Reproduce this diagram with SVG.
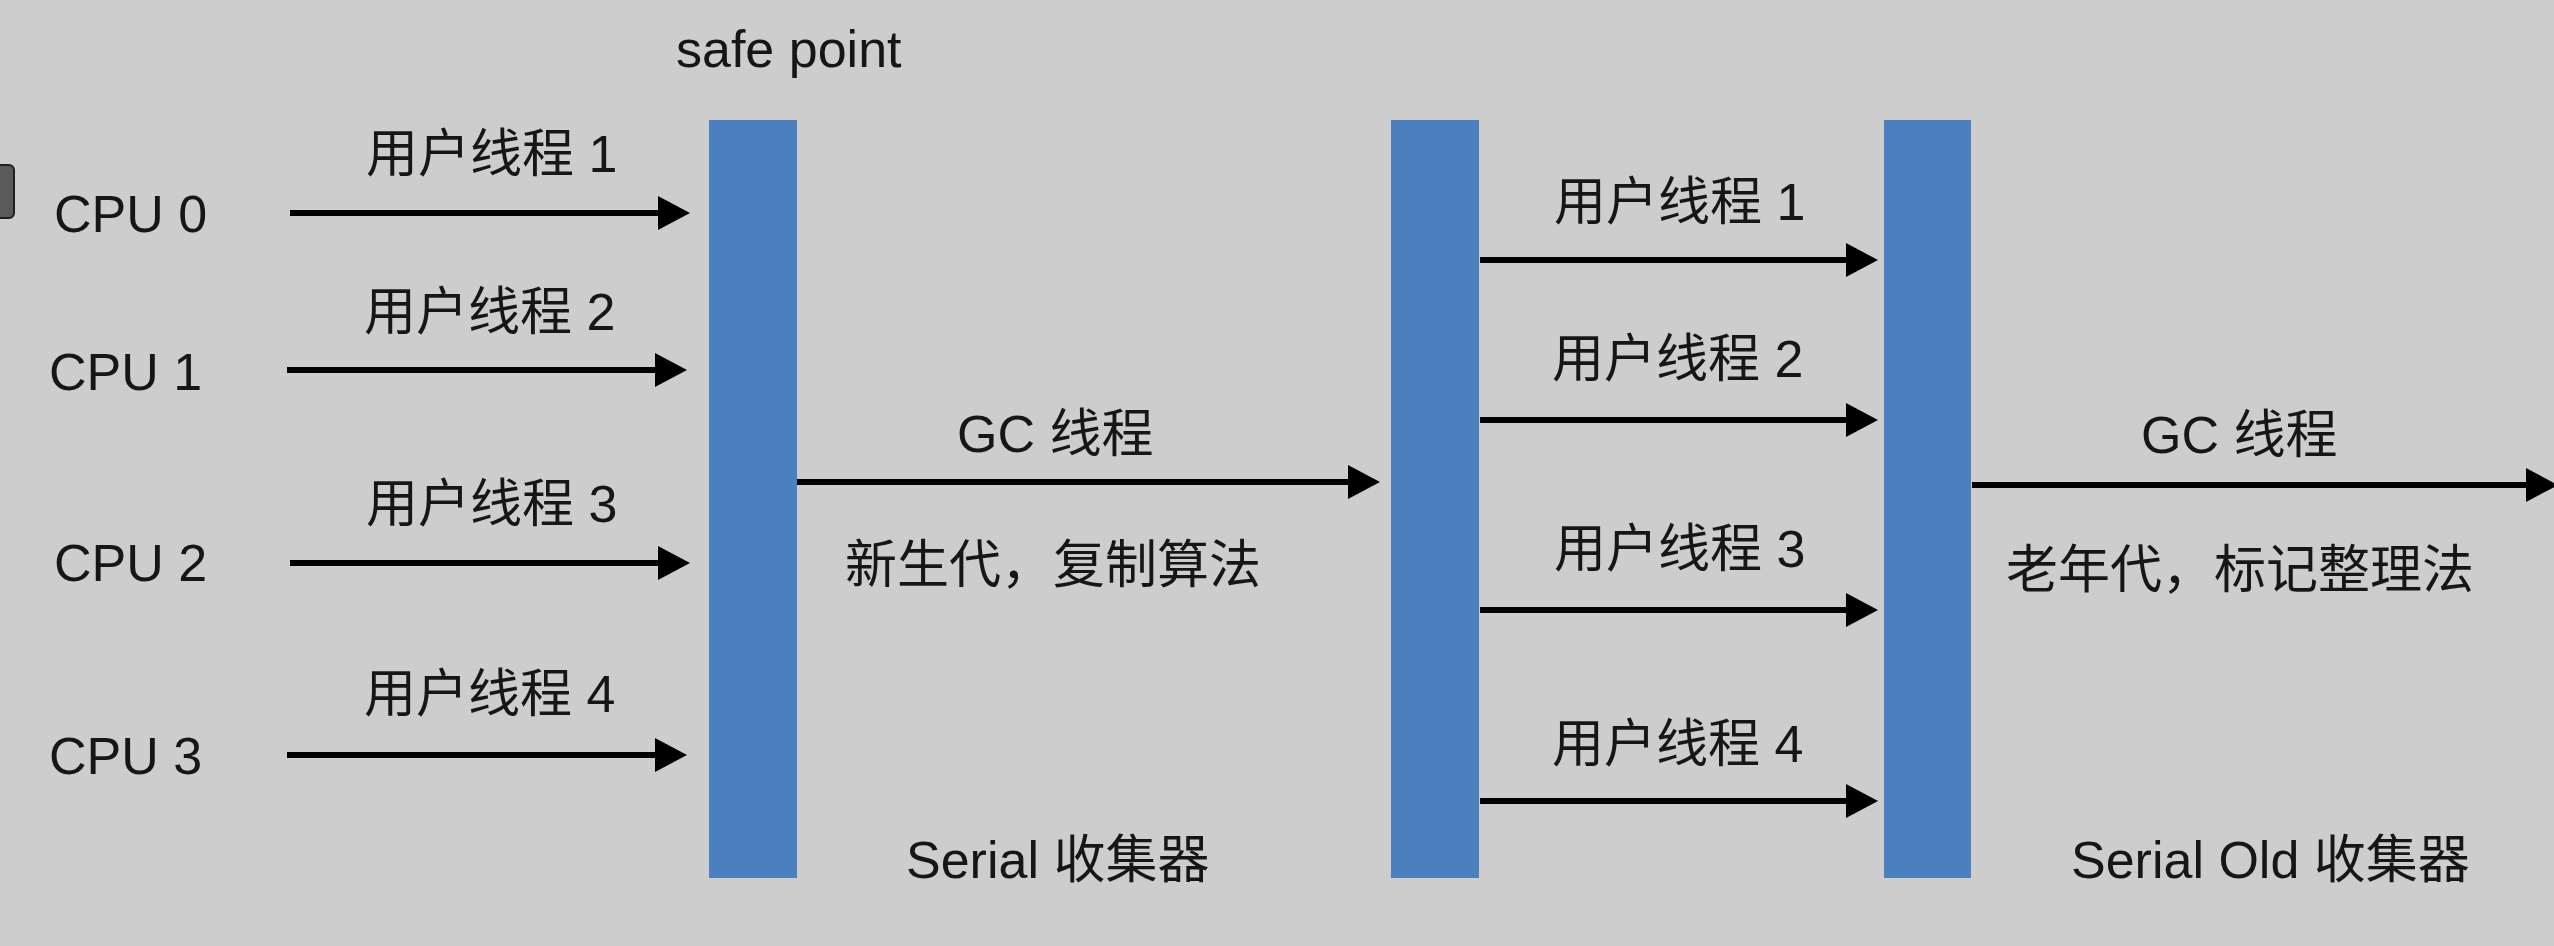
<svg xmlns="http://www.w3.org/2000/svg" width="2554" height="946" viewBox="0 0 2554 946">
  <defs>
    <style>
      .t { font-family: "Liberation Sans", "Noto Sans CJK SC", sans-serif; font-size: 52px; fill: #161616; }
      .bar { fill: #4b80be; }
      .arr { stroke: #000; stroke-width: 6; fill: none; marker-end: url(#ah); }
    </style>
    <marker id="ah" markerUnits="userSpaceOnUse" markerWidth="32" markerHeight="34" refX="4" refY="17" orient="auto">
      <path d="M0,0 L32,17 L0,34 z" fill="#000"/>
    </marker>
  </defs>
  <rect x="0" y="0" width="2554" height="946" fill="#cdcdcd"/>
  <rect x="-12" y="165" width="26" height="53" rx="5" fill="#5a5a5a" stroke="#1e1e1e" stroke-width="2"/>

  <text class="t" x="676" y="67">safe point</text>

  <g id="cpu0"><text class="t" x="54" y="232">CPU 0</text></g>
  <g id="cpu1"><text class="t" x="49" y="390">CPU 1</text></g>
  <g id="cpu2"><text class="t" x="54" y="581">CPU 2</text></g>
  <g id="cpu3"><text class="t" x="49" y="774">CPU 3</text></g>

  <g id="bar1"><rect class="bar" x="709" y="120" width="88" height="758"/></g>
  <g id="bar2"><rect class="bar" x="1391" y="120" width="88" height="758"/></g>
  <g id="bar3"><rect class="bar" x="1884" y="120" width="87" height="758"/></g>

  <g id="connectors">
    <path class="arr" d="M290,213 H662"/>
    <path class="arr" d="M287,370 H659"/>
    <path class="arr" d="M290,563 H662"/>
    <path class="arr" d="M287,755 H659"/>
    <path class="arr" d="M797,482 H1352"/>
    <path class="arr" d="M1480,260 H1850"/>
    <path class="arr" d="M1480,420 H1850"/>
    <path class="arr" d="M1480,610 H1850"/>
    <path class="arr" d="M1480,801 H1850"/>
    <path class="arr" d="M1972,485 H2530"/>
  </g>

  <g id="labels">
    <text class="t" x="366" y="172">用户线程 1</text>
    <text class="t" x="364" y="330">用户线程 2</text>
    <text class="t" x="366" y="522">用户线程 3</text>
    <text class="t" x="364" y="712">用户线程 4</text>
    <text class="t" x="957" y="452">GC 线程</text>
    <text class="t" x="845" y="583">新生代，复制算法</text>
    <text class="t" x="1554" y="220">用户线程 1</text>
    <text class="t" x="1552" y="377">用户线程 2</text>
    <text class="t" x="1554" y="567">用户线程 3</text>
    <text class="t" x="1552" y="762">用户线程 4</text>
    <text class="t" x="2141" y="453">GC 线程</text>
    <text class="t" x="2006" y="588">老年代，标记整理法</text>
    <text class="t" x="906" y="878">Serial 收集器</text>
    <text class="t" x="2071" y="878">Serial Old 收集器</text>
  </g>
</svg>
